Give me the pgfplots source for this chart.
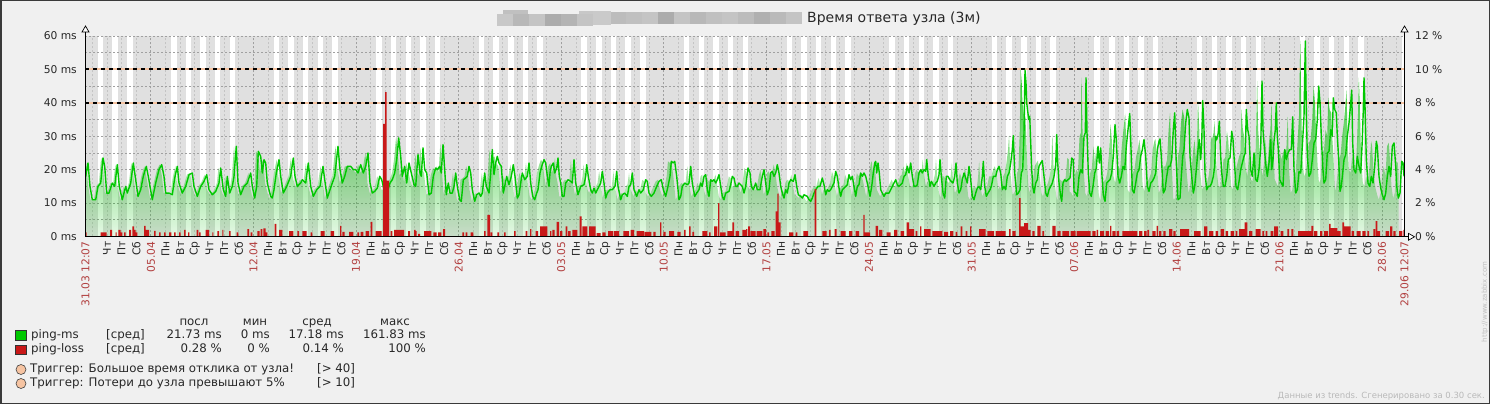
\documentclass[border=0pt]{standalone}
\usepackage{fontspec}
\setmainfont{DejaVu Sans}
\usepackage{pgfplots}
\usepackage{pgfplotstable}
\pgfplotsset{compat=1.18}
\usetikzlibrary{fadings}
\definecolor{bgc}{RGB}{240,240,240}
\definecolor{plotgrey}{RGB}{224,224,224}
\definecolor{gridc}{RGB}{160,160,160}
\definecolor{gridl}{RGB}{196,196,196}
\definecolor{zgreen}{RGB}{0,200,0}
\definecolor{zfill}{RGB}{0,190,0}
\definecolor{zred}{RGB}{200,24,24}
\definecolor{trig}{RGB}{246,196,162}
\definecolor{txt}{RGB}{40,40,40}
\definecolor{datec}{RGB}{178,64,64}
\newcommand\fs[1]{\fontsize{#1}{#1}\selectfont}
\newcommand\D[1]{\textcolor{datec}{#1}}
\tikzfading[name=zfade, top color=transparent!5, bottom color=transparent!90]

\pgfplotstableread{
x y
85 18
85.7 18
88 22
90 15
92.3 11
95.7 11
98 15
100.7 16
103 23.5
104.7 21
106.7 13
109 13
112.3 16
114.7 15
117.3 21.5
119.3 15
122.3 11
125.7 15
127.3 13
130.7 16
133.3 22
135.7 17
138 12
140.7 14
143.3 18
146.3 21
148.3 18
152.3 11
155.7 16
159 20
161.7 21.5
164 18
165.7 13
169 13
172.3 12.5
174.7 17.5
177.3 21
179 16
182.3 13
185.7 15
189 18.5
192.3 19
194 15
197.3 12
200.7 15
204 16.5
206.7 18.5
209 14
212.3 12.5
215.7 13.5
219 16
220.7 20.5
223.3 14
225.7 12
227.3 18
229.7 13
232.3 15
234 18
236.3 27
238 16
240.7 12.5
244 15
247.3 16
250.7 19
252.3 15
254.7 11.5
256.7 15
258.3 25.5
260.7 24
262.3 19
264 23
265.7 22
267.3 16
270.7 12
272.3 11.5
274 14
276.3 19
279 23
280.7 18
283.3 13
286.7 15
290.7 18
293.3 23.5
295 18
297.3 15
300.7 16
302.3 17
305.7 16
308.3 22
310.7 15
313.3 12
316.7 14
320 15
323 21
324.7 17
327.3 11.5
330 14
332.3 16
334.7 18
338 27
340 20
342.3 16
344.7 18
347.3 21
350.7 21
353.3 20
355.7 20
358 19
360.7 21.5
363.3 19
365.7 21
368 25
370 16
372.3 13
374.7 13.5
377.3 14.5
379.7 18
381.7 17
384 14
388 14
390 16
392.3 17
394.7 19
396.7 23
398.7 29.5
400.7 24
402.3 18
404.7 21
406.7 16
409 22
411.3 19
414 15.5
415.7 15
418 24.5
420 19
421.3 18
423 26.5
424.7 20
426.7 19
429 12.5
431.3 13
433.3 18
435.7 20.5
437.3 20
439.7 21
441.3 19
443 27.5
444.7 20
446.3 12.5
448.3 16
450 13
452.3 13
454 15
455.7 19
457.3 15
459.7 11
461.3 10.5
463.3 17
465.7 17.5
467.3 18
469 21
470.7 19
472.3 14
474.7 10.5
476.7 12.5
479 13
480.7 12
482.3 13
484.7 19
486.3 15
489 13
490.7 19
492.3 26
494 18.5
495.7 22
497.3 24
499 22
501.3 21
503.3 13
504.7 15
506.7 18
509 15.5
511.3 18
513.3 21.5
515 18
517.3 11.5
519 12.5
520.7 16
522.3 19
524.7 17
527.3 18
529 22
530.7 16
532.7 12
534.7 11
536.7 13
538 14
540 19
541.7 21
544 23
545.7 22
547.3 18
549 15
550 19
551.3 21
553.3 22
554.7 19
556.7 20.5
558 23.5
559.3 18
560.7 16
562.3 12
564 12
565.7 16
568 17
570.7 16.5
572.3 16
574 23
575.7 16
578 12.5
580.7 15
584 15.5
585.7 18
586.7 21.5
588.3 18
590.7 14
592.3 13
594 14.5
595.7 13
597.3 14
599 15
600.7 16
602.3 19.5
604 16
605.7 11.5
607.3 13
610 14
612.3 14
615 15
616.7 19.5
618 15
620.7 11
622.3 12.5
624.7 13
627.3 12
629 15
630.7 15.5
632.3 19
634 14
636.7 12
639 14
640.7 13
643.3 14
645.7 17
647.3 16.5
649 13
651.3 12
654 13
656.7 15
659 16.5
661.3 17
663.3 14
665.7 12
668 15
670 18
671.3 22.5
673.3 22
674.7 22.5
676.7 18
679 11
680.7 12
682.3 15
684.7 16
687.3 15.5
689 16
690.7 21
692.3 16
694.7 12
696.7 13
699 14
700.7 16
702.3 15
704 18
705.7 18.5
707.3 14
709 12
710.7 17
712.3 16.5
714 17
715.7 16
717.3 17
719 18.5
720.7 15
722.3 12
724 11
725.7 13
729 13.5
730.7 15.5
732.3 18
734 17.5
735.7 15
737.3 15
739 16
740.7 15.5
742.3 15
744 13
745.7 15
748 20.5
750 19
751.3 15
753.3 14
755.7 16
757.3 14
760 14
762.3 18
764 20
765.7 16
767.3 12.5
769 14
770.7 19
772.3 19.5
774 18
775.7 19
777.3 21.5
779 19
780.7 15
782.3 13
784 11.5
785.7 14
787.3 13
789 16
790.7 17
793.3 16.5
795 18.5
796.7 15
798.3 12.5
800.7 12
802.3 11.5
804 12.5
807.3 12
809 11
810.7 10.5
812.3 11.5
814 13
815.7 14
818 15
820 15
822.3 17.5
824 15.5
825.7 12.5
827.3 14
829 13.5
830.7 14
832.3 15
834 16
835.7 19.5
837.3 18
839 14.5
840.7 12
842.3 14
844 14.5
845.7 15
847.3 15.5
849 18.5
850.7 17
852.3 18
854 15
855.7 12
857.3 15
859 15.5
860.7 19
862.3 18
864 19
865.7 18
867.3 16
870 12
871.7 15
873.3 19
874.7 22
875.7 22.5
876.7 19
878 22
879.3 19
880.7 14
882.3 13
884 12
885.7 13
887.3 13
889 13
890.7 14
892.3 15
894 16
895.7 17
897.3 15.5
899 15
900.7 15.5
902.3 16
904 18
905.7 18.5
907.3 21
909 19
910.7 22
912.3 18
914 15
915.7 15
917.3 15.5
919 19
920.7 20
922.3 19
924 20
925.7 19.5
926.7 23
928.3 18
930 15
931.3 16.5
932.3 16
934 15
935.7 16
937.3 16.5
939 18.5
940 23
941.3 18
943 13
944.7 11.5
946.3 18
948 18
949.7 17
951.3 16.5
953 16
954.7 18
956 22
957.3 16
959 13
960.7 14
962.3 17
964 19
965.7 17.5
967.3 16
969 21
970.7 17
972.3 12
974 11
975.7 13
977.3 14.5
979 15
980.7 14
982.3 18
983.3 22.5
984.7 15
986.3 12
988 13
990 14
991.3 15
993.3 18
995.7 18
997.3 20
999 21
1000.7 19
1002.3 14
1004 15
1005.7 14
1007.3 18
1009 19
1010.7 22
1012.3 26
1013.3 30.2
1014.7 19
1016.7 12.5
1018.3 13
1020 14
1021.3 19
1022.7 20
1024 31
1025 49.8
1026 46
1026.7 40
1027.7 37.5
1028.7 35
1029.7 36
1030.7 28
1031.7 20
1032.7 15
1034 13
1035.7 16
1037.3 17
1039 21
1040.7 22
1042.3 22.7
1044 18
1045.7 13
1047.3 12
1049 14
1050.7 15
1052.3 16
1054 18
1055.7 21.5
1056.7 30.5
1057.7 22
1059 16
1060.7 12
1061.7 10.5
1063 16
1064.7 17
1066.3 16.5
1068 17
1070 17.5
1071.7 23.5
1073.3 23
1074 13.5
1075.7 13
1077.3 12
1079 18
1080.7 20
1082.3 19
1084 30
1085.3 31
1086 47.5
1087 31
1088.3 19
1089.7 13
1091.3 12
1093 15
1094.7 19
1096.3 20.5
1098 27
1099.3 22
1100.7 26.5
1102 18
1103.3 12.5
1105 10.5
1106.7 16
1108.3 16.5
1110 17
1111.7 19
1113.3 24
1115 33.5
1116.3 29
1118 18
1119.7 16
1121.3 18
1123 21
1124.7 20
1126.3 27
1128 32
1129.7 36.8
1130.7 29
1132.3 14
1134 13
1135.7 16
1137.3 19
1139 20
1140.7 24
1142.3 26
1144 29
1145.7 24
1147.3 15
1149 13.5
1150.7 16
1152.3 16.5
1154 17.5
1155.7 19
1157.3 26
1159 28.5
1160 29.2
1161.3 24
1163.3 13
1165 14
1166.7 18
1168.3 21
1170 21
1171.7 23
1173.3 32
1174.7 37
1176 24
1178 11
1180 11.5
1181.3 18
1182.7 24
1184 26
1185.7 34
1187.3 38
1189 35.5
1190 24
1191.7 18
1193.3 13
1194.7 15
1196.3 20
1198 26
1199.3 29
1200.7 23
1201.7 28
1202.7 40.7
1204 32
1205 19
1206.7 14
1208.3 15
1210 15
1211.7 16
1213.3 18
1214.7 21
1215.7 30
1216.7 29
1218.3 31
1219.3 34.5
1220.7 24
1221.7 19
1223.3 15
1225 15
1226.7 18
1228.3 23
1230 23.5
1231.7 31.5
1233 29
1234 24
1236 15
1237.7 14
1239.3 17
1240.7 20
1242.7 22.5
1244 24
1245.3 25
1246.3 38
1247.7 32
1249 30
1250.7 20
1252.3 18
1254 25
1255.7 17
1257.3 16.5
1259 20
1260.7 26.5
1262 46.5
1263 32
1264.7 25
1266 21
1267.3 18
1269 22
1270.7 29
1271.7 20
1273 23
1274 28.5
1275.3 32
1276.3 40
1277.3 30
1278.3 26
1279.7 17
1281.3 16
1283 15
1284.7 26
1286.3 23
1288 25
1289.7 26
1291.3 26
1292.7 35.8
1294 20
1295.7 13
1297.3 14
1299 19.5
1300.7 19
1302.3 27
1304 36
1305.3 58.5
1306.3 38
1307.3 24
1309 18
1310.7 19
1312.3 23
1314 28
1315.7 29
1317.3 35
1318.7 45
1320 40
1321.3 30
1322.7 21
1324 16
1325.7 17
1327.3 25
1329 25.5
1330.7 32
1332.3 30
1333.3 41.5
1334.7 38
1336.3 37
1337.3 30
1338.7 23
1340 13.5
1341.3 15
1342.7 19
1344 23
1345.7 24.5
1347.3 30
1349 34
1350.7 40
1351.7 43.8
1352.7 28
1354 20
1355.7 19
1357.3 24
1359 21
1360.7 19
1362.3 29
1363.3 38
1364 47.5
1365 39
1366.3 23
1368 16
1369.7 15
1371.3 18
1373 16
1374.7 21
1376.3 28.5
1377.3 27
1379 18
1380.7 14.5
1382.3 12.5
1384 11
1385.7 13
1387.3 18
1389 21
1390.7 18
1392.3 27
1394 28
1395.7 21
1396.7 15
1398.3 11.5
1400 13
1401.7 22.5
1403 22
1404 18
}\greendata

\pgfplotstableread{
x y
84 0.24
86.7 0
100.7 0.24
106.7 0
110 0.4
112 0
115.7 0.24
116.7 0
118.3 0.4
120.7 0.24
122.3 0
124 0.24
125.7 0
129 0.4
131 0
132.3 0.6
134 0.4
135.7 0.24
137.3 0
144 0.64
145.7 0.4
149 0
154 0.34
155.7 0
159 0.24
160.7 0
164 0.24
165.7 0
169 0.24
171.3 0
174 0.24
175.7 0
179 0.24
180.7 0
184 0.4
185.7 0
188 0.24
189.3 0
196.7 0.4
198.3 0
199 0.24
200.7 0
205.7 0.4
209 0
212.3 0.24
213.3 0
217.3 0.32
219 0
222.3 0.4
223.3 0
229 0.32
230.7 0
236.7 0.24
238.3 0
247.3 0.44
249 0
250.7 0.24
252.3 0
257.3 0.32
259.7 0
260.7 0.44
262.3 0
263.3 0.48
265.7 0.24
267.3 0
274.7 0.76
276.3 0
279 0.4
282.3 0
289 0.32
293.3 0
297.3 0.32
299 0
302.3 0.32
306.7 0
310.7 0.24
312.3 0
320.7 0.32
324.7 0
330.7 0.32
334 0
340 0.64
341.3 0
342.3 0.28
344.7 0
349 0.28
353.3 0
357.3 0.24
359 0
360.7 0.28
363.3 0
365.7 0.32
369 0
370.7 0.88
372.3 0
375.7 0.32
381.7 0
383 6.74
385 8.64
386.7 3.34
389 0
390.7 0.32
392.3 0
394 0.4
404 0
408 0.32
410 0
414 0.4
415.7 0.32
416.5 0
418 0.16
420 0
424 0.32
431.3 0
433.3 0.24
436.7 0
438 0.24
441.3 0
443 0.44
445 0
462.3 0.24
464 0
465.7 0.24
467.3 0
470.7 0.24
473.3 0
484 0.32
485.7 0
487.3 1.3
490 0
490.7 0.24
492.3 0
497.3 0.24
499 0
504 0.24
505.7 0
514 0.32
515.7 0
525.7 0.32
527.3 0
530 0.44
531.3 0
535.7 0.32
538 0
540 0.6
547.3 0
550 0.32
551.3 0
552.3 0.4
554.7 0
556.7 0.88
559 0
560 0.32
562.3 0
565.7 0.6
567.3 0
568 0.32
570.7 0
572.3 0.4
577.3 0
579.7 1.2
581.7 0
582.3 0.6
587.3 0
589 0.6
595.7 0
596.7 0.2
600.7 0
602.3 0.24
605.7 0
608 0.32
613.3 0
614 0.32
619 0
623.3 0.32
629 0
630.7 0.4
634 0
636.7 0.32
644 0
644.7 0.28
651.3 0
653.3 0.28
655.7 0
660 0.84
661.3 0
663.3 0.28
665.7 0
669 0.32
674 0
677.3 0.28
680.7 0
684 0.4
685.7 0
689 0.6
690.7 0
692.3 0.28
694 0
702.3 0.32
707.3 0
709 0.24
710.7 0
714 0.6
717.3 0
718 2.0
719.3 0
720 0.24
725.7 0
727.3 0.32
732.3 0.84
734 0
735.7 0.32
739 0
742.3 0.4
746 0.44
747.3 0
748 0.6
750 0
750.7 0.32
755.7 0
756.7 0.32
762.3 0
763.3 0.44
766 0
767.3 0.24
769 0
771.3 0.32
774.7 0
775.7 1.5
777.3 2.56
778.7 0.84
780.7 0
789 0.24
793.3 0
795.7 0.24
797.3 0
803.3 0.32
808 0
814.7 2.84
816.3 0
822.3 0.32
826.7 0
829 0.4
830.7 0
834.7 0.44
836.7 0
840.7 0.32
845.7 0
849 0.32
852.3 0
855.7 0.32
859 0
863.3 1.3
864.7 0.24
870 0
875.7 0.64
878 0
879 0.4
882.3 0
886.7 0.24
890.7 0
894 0.4
897.3 0
900.7 0.32
904 0
906.7 0.84
909 0.44
914 0
915.7 0.32
917.3 0
920 0.6
921.3 0
924 0.44
930.7 0
932.3 0.32
942.3 0
944 0.28
948 0
950 0.32
953.3 0
955.7 0.28
957.3 0
960.7 0.6
962.3 0
965.7 0.32
967.3 0
970 0.6
971.3 0
979 0.44
985.7 0
987.3 0.32
994 0
995.7 0.32
1005.7 0
1009 0.44
1010.7 0
1012.3 0.32
1015.7 0
1019 2.3
1020.7 0.6
1024 0.8
1028 0.4
1030.7 0
1032.3 0.32
1034.7 0
1037.3 0.64
1040.7 0
1042.3 0.32
1044 0
1052.3 0.64
1055.7 0
1057.3 0.32
1060.7 0
1062.3 0.32
1069 0
1070.7 0.32
1075.7 0
1076.7 0.32
1090.7 0
1092.3 0.32
1095.7 0
1096.7 0.4
1098 0
1100 0.32
1104 0
1105.7 0.32
1109 0
1110 0.64
1111.3 0
1112.3 0.32
1115.7 0
1116.7 0.32
1119 0
1122.3 0.32
1137.3 0
1139 0.32
1142.3 0
1144 0.32
1146.7 0
1147.3 0.4
1149 0
1152.3 0.32
1155.7 0
1156.7 0.64
1158 0
1159 0.32
1161.3 0
1163.3 0.32
1165.7 0
1169 0.44
1172.3 0
1173.3 0.32
1175.7 0
1180 0.44
1189 0
1194 0.32
1200.7 0
1204 0.6
1207.3 0
1209 0.32
1213.3 0
1215.7 0.32
1218 0
1220.7 0.44
1224 0
1225.7 0.32
1228 0
1230.7 0.32
1234 0
1235.7 0.32
1237.3 0
1239 0.44
1244.7 0.84
1247.3 0
1249 0.32
1252.3 0
1255.7 0.44
1260.7 0
1262.3 0.32
1264 0
1265.7 0.32
1267.3 0
1270.7 0.32
1273.3 0
1274 0.6
1278 0
1280.7 0.32
1283.3 0
1287.3 0.44
1289 0
1291.3 0.44
1293.3 0
1298 0.32
1311.3 0.64
1313.3 0
1314 0.32
1317.3 0
1320 0.32
1322.3 0
1324 0.32
1328 0
1329 0.76
1330.7 0.5
1337.3 0.32
1340.7 0
1342.3 0.84
1344 0.6
1350.7 0
1351.7 0.32
1354 0
1356.7 0.32
1360.7 0
1362.3 0.32
1365.7 0
1367.3 0.32
1369 0
1373.3 0.44
1375 0
1375.7 0.92
1377.3 0.32
1380 0
1385.7 0.32
1389 0
1390 0.6
1392.3 0
1393.3 0.32
1395.7 0
1399 0.32
1402.3 0
1403.3 0.4
1404 0
}\reddata

\begin{document}
\begin{tikzpicture}[x=1pt,y=1pt]
\fill[bgc] (0,0) rectangle (1490,404);
\useasboundingbox (0,0) rectangle (1490,404);
\draw[color={rgb,255:red,58;green,58;blue,58}, line width=1.5pt] (0.75,0.75) rectangle (1489.25,403.25);

% title mosaic (blurred host name)
\foreach \xa/\xb/\ya/\yb/\g in {497/513/14/26/200,513/529/14/26/184,529/545/14/26/196,545/561/14/26/172,561/577/14/26/180,577/593/14/26/196,593/611/11/25/202,503/528/10/14/192,579/593/11/14/200,611/626/12/24/188,626/642/12/24/192,642/658/12/24/196,658/674/12/24/172,674/690/12/24/196,690/706/12/24/184,706/722/12/24/192,722/738/12/24/196,738/754/12/24/188,754/770/12/24/176,770/786/12/24/186,786/802/12/24/196}{
  \fill[fill={rgb,255:red,\g;green,\g;blue,\g}] (\xa,404-\ya) rectangle (\xb,404-\yb);
}
\node[anchor=west, inner sep=0pt, text=txt, font=\fs{14}] at (807,385) {Время ответа узла (3м)};

% background: non-working time grey, working time white
\begin{scope}
\clip (85,167.5) rectangle (1404,368);
\fill[plotgrey] (85,167.5) rectangle (1404,368);
\foreach \d in {1,...,90}{
  \pgfmathtruncatemacro{\wd}{mod(\d+1,7)}
  \ifnum\wd<5
    \pgfmathsetmacro{\xa}{85+(\d-0.505)*14.656+5.496}
    \fill[white] (\xa,167.5) rectangle ({\xa+5.496},368);
  \fi
}
\end{scope}

\begin{axis}[
  at={(85pt,167.5pt)}, anchor=south west,
  scale only axis, width=1319pt, height=200.5pt,
  xmin=85, xmax=1404, ymin=0, ymax=60,
  axis line style={draw=none},
  major tick length=0pt, minor tick length=0pt,
  ytick={0,10,...,60},
  yticklabels={0 ms,10 ms,20 ms,30 ms,40 ms,50 ms,60 ms},
  minor ytick={5,15,...,55},
  ymajorgrids, yminorgrids, xmajorgrids,
  y grid style={gridc, line width=0.8pt, dash pattern=on 2pt off 2pt},
  x grid style={gridl, line width=0.8pt, dash pattern=on 2pt off 2pt},
  xtick={92.25,106.906,...,1397},
  xticklabels={{},Чт,Пт,Сб,\D{05.04},
    Пн,Вт,Ср,Чт,Пт,Сб,\D{12.04},
    Пн,Вт,Ср,Чт,Пт,Сб,\D{19.04},
    Пн,Вт,Ср,Чт,Пт,Сб,\D{26.04},
    Пн,Вт,Ср,Чт,Пт,Сб,\D{03.05},
    Пн,Вт,Ср,Чт,Пт,Сб,\D{10.05},
    Пн,Вт,Ср,Чт,Пт,Сб,\D{17.05},
    Пн,Вт,Ср,Чт,Пт,Сб,\D{24.05},
    Пн,Вт,Ср,Чт,Пт,Сб,\D{31.05},
    Пн,Вт,Ср,Чт,Пт,Сб,\D{07.06},
    Пн,Вт,Ср,Чт,Пт,Сб,\D{14.06},
    Пн,Вт,Ср,Чт,Пт,Сб,\D{21.06},
    Пн,Вт,Ср,Чт,Пт,Сб,\D{28.06},{}},
  extra x ticks={150.87,253.47,356.06,458.65,561.24,663.83,766.43,869.02,971.61,1074.20,1176.79,1279.39,1381.98},
  extra x tick labels={},
  extra x tick style={x grid style={gridc}},
  xticklabel style={rotate=90, anchor=east, inner sep=0pt, font=\fs{10.7}, text=txt},
  xticklabel shift=5pt,
  yticklabel style={anchor=east, inner sep=0pt, font=\fs{10.7}, text=txt},
  yticklabel shift=8pt,
  clip=true,
]
\addplot[trig, line width=2pt, forget plot] coordinates {(85,40) (1404,40)};
\addplot[black, line width=2pt, dash pattern=on 4pt off 4pt, forget plot] coordinates {(85,40) (1404,40)};
\addplot[trig, line width=2pt, forget plot] coordinates {(85,50) (1404,50)};
\addplot[black, line width=2pt, dash pattern=on 4pt off 4pt, forget plot] coordinates {(85,50) (1404,50)};
\addplot[draw=none, fill=zfill, path fading=zfade] table[x=x,y=y] {\greendata} \closedcycle;
\addplot[zgreen, line width=1.4pt, line join=round] table[x=x,y=y] {\greendata};
\end{axis}

\begin{axis}[
  at={(85pt,167.5pt)}, anchor=south west,
  scale only axis, width=1319pt, height=200.5pt,
  xmin=85, xmax=1404, ymin=0, ymax=12,
  axis x line=none, axis y line*=right,
  axis line style={draw=none},
  major tick length=0pt,
  ytick={0,2,...,12},
  yticklabels={0 \%,2 \%,4 \%,6 \%,8 \%,10 \%,12 \%},
  yticklabel style={anchor=west, inner sep=0pt, font=\fs{10.7}, text=txt},
  yticklabel shift=11pt,
]
\addplot[const plot mark left, draw=none, fill=zred] table[x=x,y=y] {\reddata} \closedcycle;
\end{axis}

% axis lines with open arrow heads
\draw[black, line width=1pt] (85.5,167.2) -- (85.5,372);
\draw[black, line width=0.7pt, fill=white] (82,372) -- (89,372) -- (85.5,378) -- cycle;
\draw[black, line width=1pt] (1404.5,167.2) -- (1404.5,372);
\draw[black, line width=0.7pt, fill=white] (1401,372) -- (1408,372) -- (1404.5,378) -- cycle;
\draw[black, line width=1pt] (85,167.2) -- (1408.5,167.2);
\draw[black, line width=0.7pt, fill=white] (1408.5,163.8) -- (1408.5,170.6) -- (1414.5,167.2) -- cycle;

% start / end labels
\node[rotate=90, anchor=east, inner sep=0pt, text=datec, font=\fs{10.7}] at (85.5,162.5) {31.03 12:07};
\node[rotate=90, anchor=east, inner sep=0pt, text=datec, font=\fs{10.7}] at (1404.5,162.5) {29.06 12:07};

% legend
\begin{scope}[every node/.style={inner sep=0pt, text=txt, font=\fs{11.8}}]
\node[anchor=mid] at (194,81.5) {посл};
\node[anchor=mid] at (255,81.5) {мин};
\node[anchor=mid] at (317,81.5) {сред};
\node[anchor=mid] at (395,81.5) {макс};
\fill[zgreen, draw=black!80, line width=0.6pt] (15.3,64) rectangle (26,73.3);
\node[anchor=mid west] at (31,68.5) {ping-ms};
\node[anchor=mid west] at (106,68.5) {[сред]};
\node[anchor=mid east] at (222,68.5) {21.73 ms};
\node[anchor=mid east] at (270,68.5) {0 ms};
\node[anchor=mid east] at (344,68.5) {17.18 ms};
\node[anchor=mid east] at (426,68.5) {161.83 ms};
\fill[zred, draw=black!80, line width=0.6pt] (15.3,49.3) rectangle (26,58.7);
\node[anchor=mid west] at (31,54) {ping-loss};
\node[anchor=mid west] at (106,54) {[сред]};
\node[anchor=mid east] at (222,54) {0.28 \%};
\node[anchor=mid east] at (270,54) {0 \%};
\node[anchor=mid east] at (344,54) {0.14 \%};
\node[anchor=mid east] at (426,54) {100 \%};
\filldraw[fill=trig, draw=black!75, line width=0.6pt] (21,34.5) circle (5);
\node[anchor=mid west] at (30,34) {Триггер: Большое время отклика от узла!};
\node[anchor=mid west] at (317,34) {[> 40]};
\filldraw[fill=trig, draw=black!75, line width=0.6pt] (21,20.5) circle (5);
\node[anchor=mid west] at (30,20) {Триггер: Потери до узла превышают 5\%};
\node[anchor=mid west] at (317,20) {[> 10]};
\end{scope}

\node[anchor=mid east, inner sep=0pt, text={rgb,255:red,185;green,185;blue,185}, font=\fs{8.5}] at (1485,8) {Данные из trends. Сгенерировано за 0.30 сек.};
\node[rotate=90, anchor=mid, inner sep=0pt, text={rgb,255:red,190;green,190;blue,190}, font=\fs{7}] at (1484,102) {http://www.zabbix.com};
\end{tikzpicture}
\end{document}
